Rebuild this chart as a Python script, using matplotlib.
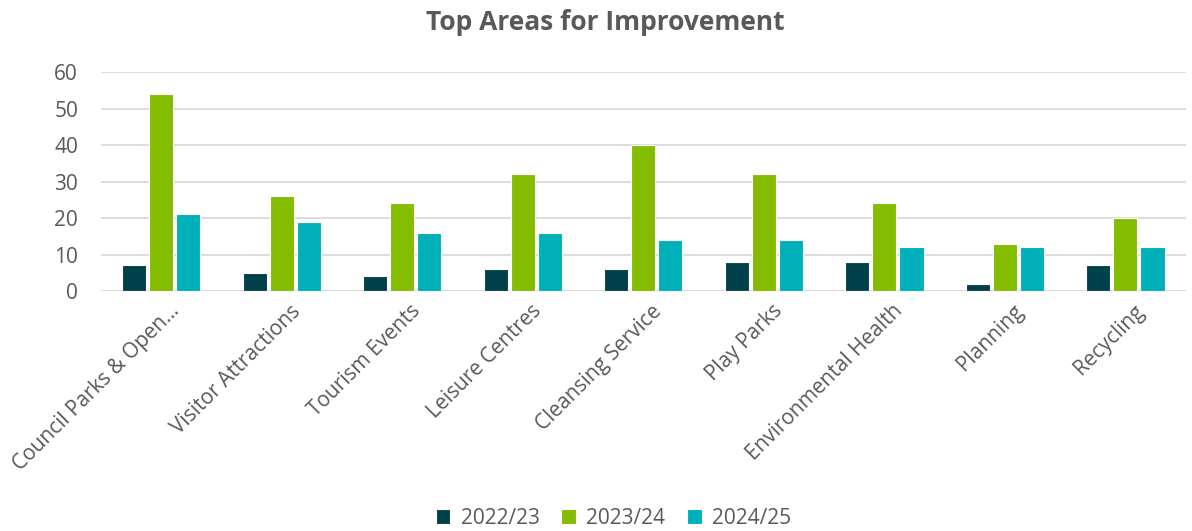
import matplotlib
matplotlib.use("Agg")
import matplotlib.pyplot as plt
import matplotlib.transforms as mtransforms
import numpy as np

categories = ["Council Parks & Open...", "Visitor Attractions", "Tourism Events",
              "Leisure Centres", "Cleansing Service", "Play Parks",
              "Environmental Health", "Planning", "Recycling"]
series_names = ["2022/23", "2023/24", "2024/25"]
v2022 = [7, 5, 4, 6, 6, 8, 8, 2, 7]
v2023 = [54, 26, 24, 32, 40, 32, 24, 13, 20]
v2024 = [21, 19, 16, 16, 14, 14, 12, 12, 12]
colors = ["#00404A", "#84BD00", "#00B0B9"]
yticks = [0, 10, 20, 30, 40, 50, 60]

plt.rcParams['font.family'] = ['Open Sans', 'DejaVu Sans']
fig = plt.figure(figsize=(11.92, 5.31), dpi=100)
ax = fig.add_axes([0.0847, 0.452, 0.910, 0.412])

x = np.arange(len(categories))
w = 0.2
for i, (vals, name) in enumerate(zip([v2022, v2023, v2024], series_names)):
    ax.bar(x + (i - 1) * 0.225, vals, width=w, color=colors[i], label=name,
           edgecolor="white", linewidth=0.8, zorder=3)

ax.set_xlim(-0.5, len(categories) - 0.5)
ax.set_ylim(0, 60)
ax.set_yticks(yticks)
ax.yaxis.grid(True, color="#D9D9D9", linewidth=1.3, zorder=0)
for s in ax.spines.values():
    s.set_visible(False)
ax.tick_params(axis="y", length=0, labelsize=15, colors="#595959", pad=16.5)
ax.tick_params(axis="x", length=0, labelsize=15, colors="#595959", pad=7)
ax.set_xticks(x)
ax.set_xticklabels(categories, rotation=45, ha="right", rotation_mode="anchor")
offset = mtransforms.ScaledTranslation(8 / 100, 0, fig.dpi_scale_trans)
for lbl in ax.get_xticklabels():
    lbl.set_transform(lbl.get_transform() + offset)
ax.axhline(0, color="#D9D9D9", linewidth=1.3, zorder=2)

fig.text(0.508, 0.957, "Top Areas for Improvement", ha="center", va="center",
         fontsize=19, fontweight="bold", color="#595959")

leg = fig.legend(loc="center", bbox_to_anchor=(0.5147, 0.024), ncol=3, frameon=False,
                 fontsize=15, handlelength=0.7, handleheight=0.7, columnspacing=1.05,
                 handletextpad=0.5)
for t in leg.get_texts():
    t.set_color("#595959")

fig.savefig("out.png", dpi=100)
